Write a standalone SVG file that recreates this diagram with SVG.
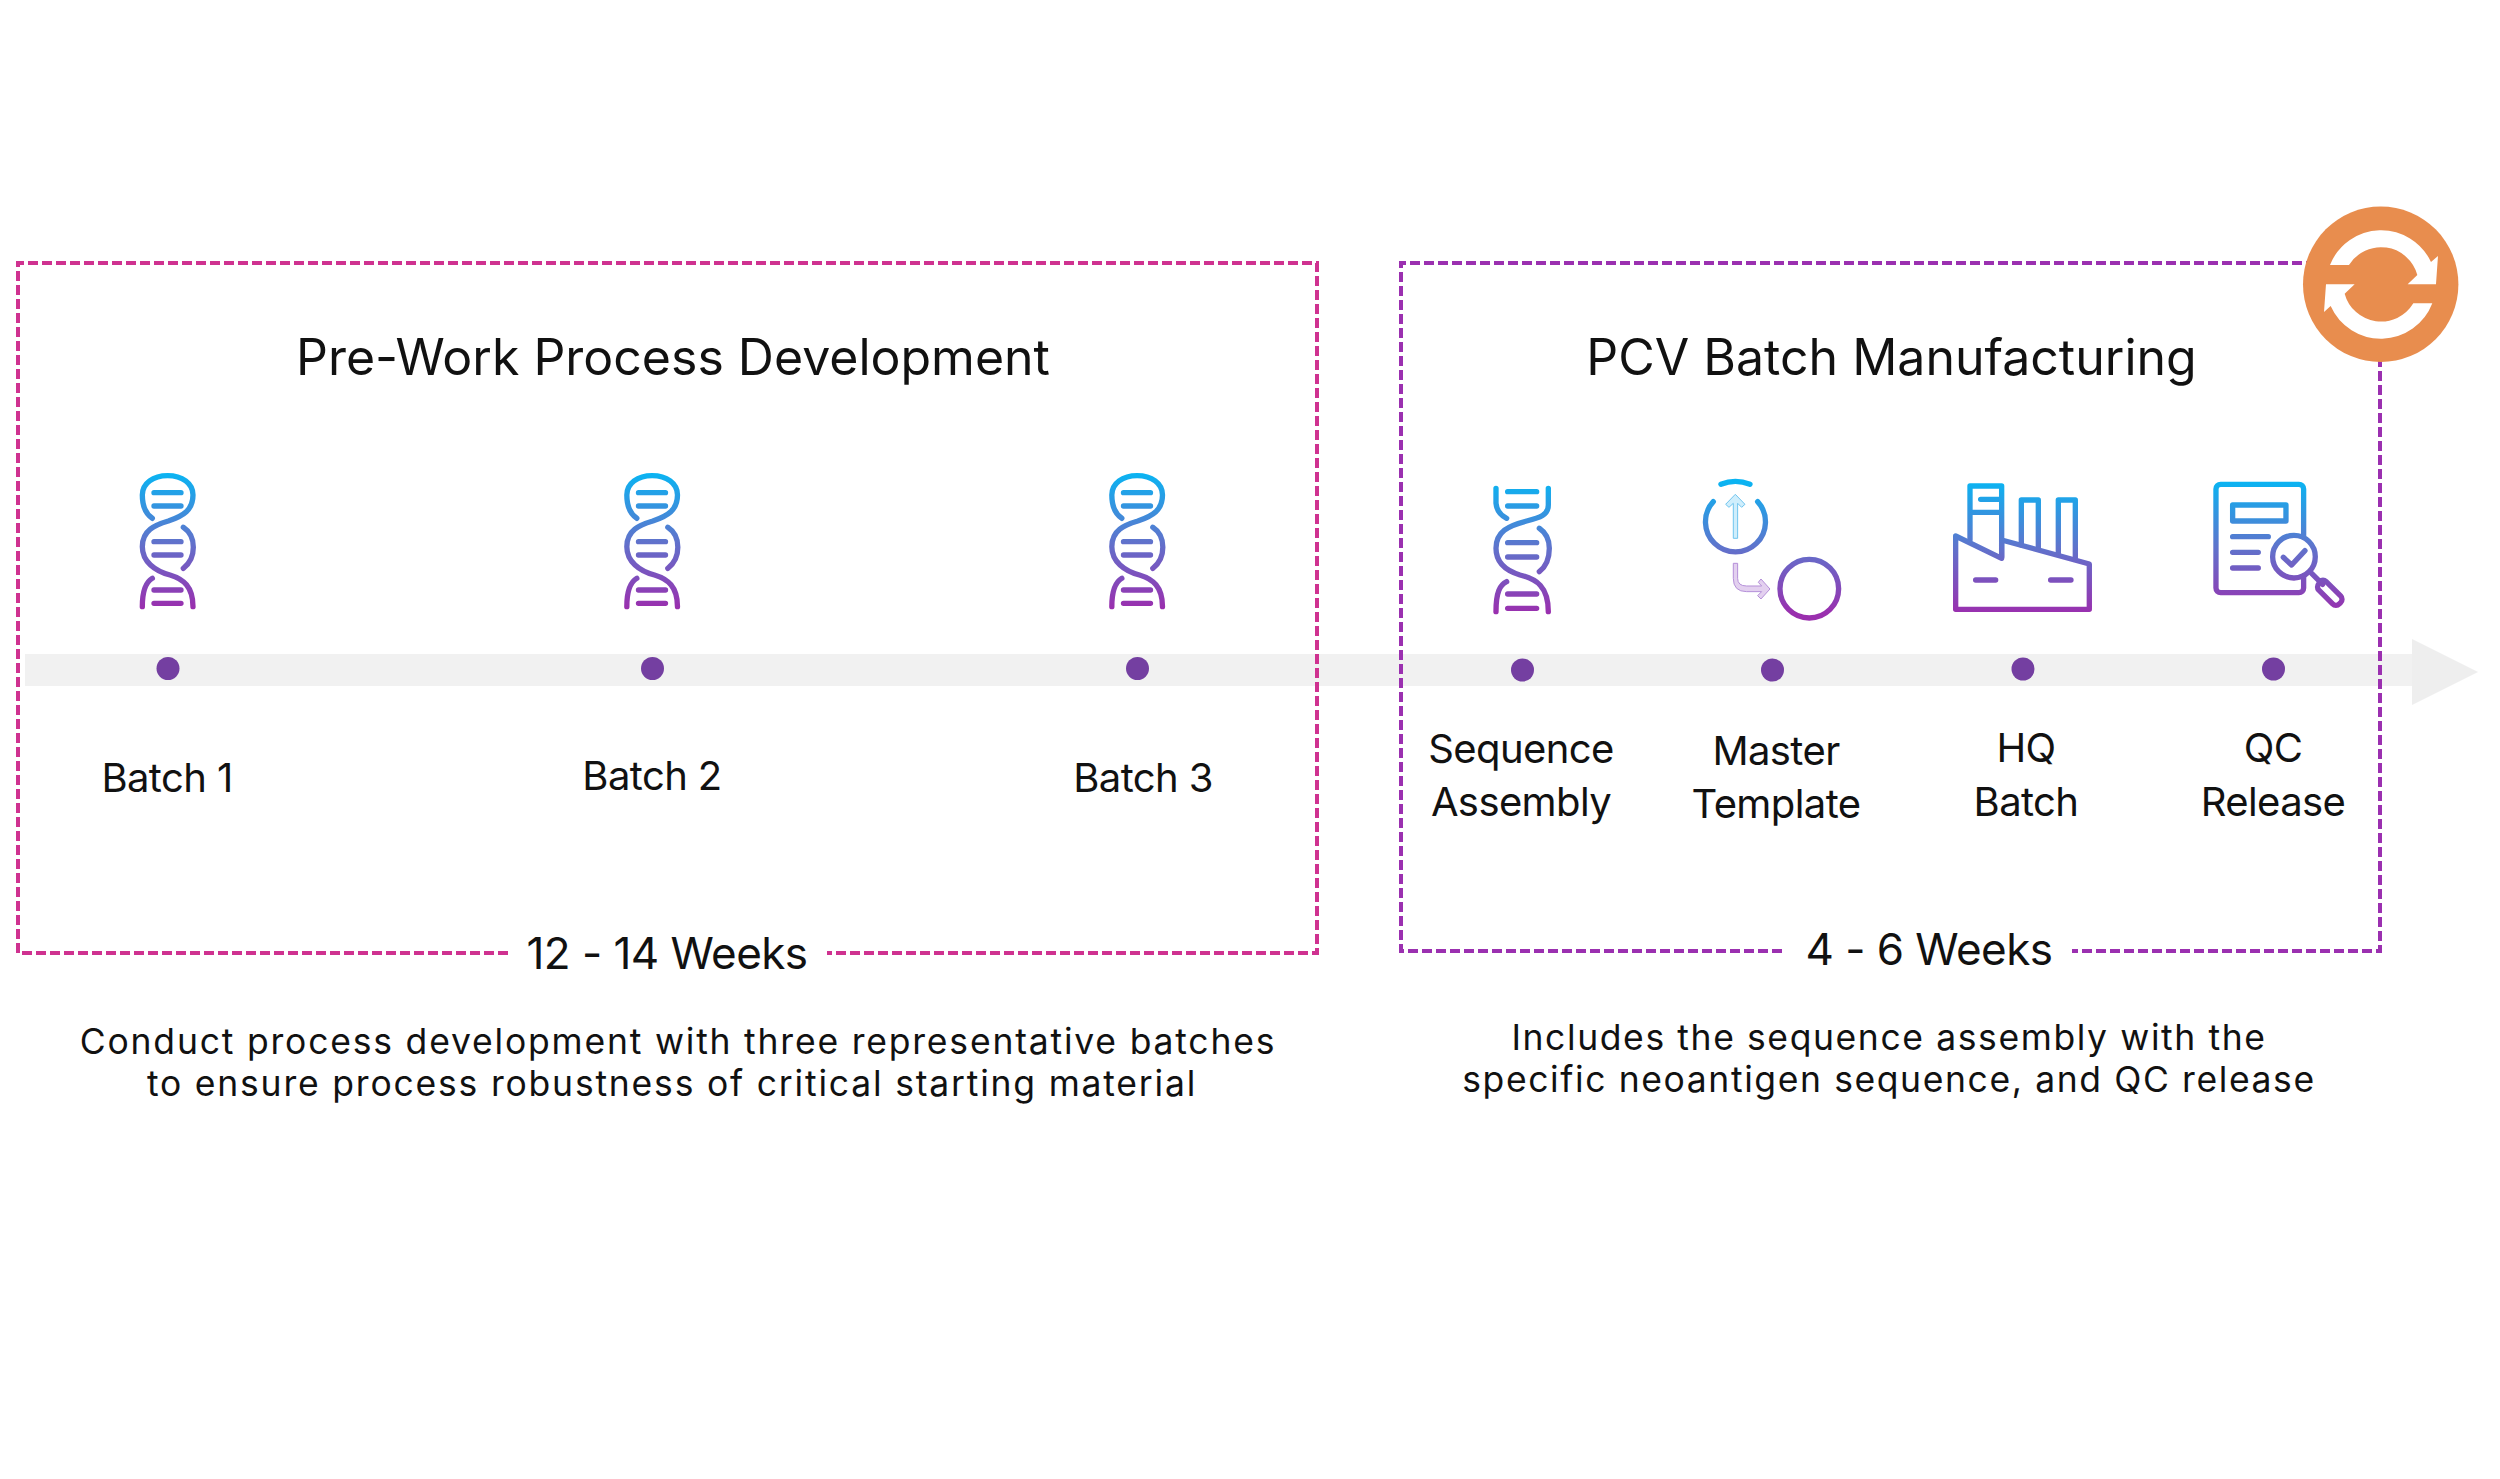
<svg xmlns="http://www.w3.org/2000/svg" xmlns:xlink="http://www.w3.org/1999/xlink" width="2500" height="1479" viewBox="0 0 2500 1479">
<style>
text{font-family:"Inter","Liberation Sans",sans-serif;fill:#111;text-anchor:middle}
.t{font-size:50px}.l{font-size:40px;letter-spacing:-.6px}.w{font-size:44px;font-weight:440;letter-spacing:-.55px}.d{font-size:35.500px;letter-spacing:1.800px}.e{font-size:35.500px;letter-spacing:1.600px}
.dot{fill:#743fa1}
.dp{fill:none;stroke:#cf3290;stroke-width:4;stroke-dasharray:10 4}
.dv{fill:none;stroke:#9b30b0;stroke-width:4;stroke-dasharray:10 4}
.ic{fill:none;stroke:url(#g);stroke-width:16;stroke-linecap:round;stroke-linejoin:round}
.ic2{fill:none;stroke:url(#g2);stroke-width:16;stroke-linecap:round;stroke-linejoin:round}
</style>
<defs>
<linearGradient id="g" gradientUnits="userSpaceOnUse" x1="0" y1="100" x2="0" y2="505"><stop offset="0" stop-color="#0ab4f2"/><stop offset=".5" stop-color="#5f73cc"/><stop offset="1" stop-color="#9a2fae"/></linearGradient>
<linearGradient id="g2" gradientUnits="userSpaceOnUse" x1="0" y1="95" x2="0" y2="490"><stop offset="0" stop-color="#0ab4f2"/><stop offset=".5" stop-color="#5f73cc"/><stop offset="1" stop-color="#9a2fae"/></linearGradient>
<g id="dna" class="ic">
<path d="M157,235C135,220 127,195 127,165C127,130 160,107 203,107C246,107 279,130 279,165C279,210 250,228 205,243C165,255 127,270 127,320C127,365 165,393 210,405C250,417 279,440 279,500"/>
<path d="M250,262C270,275 280,295 280,322C280,347 270,370 250,385"/>
<path d="M157,415C140,425 127,450 127,500"/>
<path d="M162,158H243M162,198H243M162,305H243M162,345H243M162,450H243M162,490H243"/>
</g>
</defs>
<g id="timeline">
<rect x="25" y="654" width="2387" height="32" fill="#f1f1f1"/>
<polygon points="2412,639 2478,672 2412,705" fill="#eeeeee"/>
</g>
<g id="connectors">
<path class="dp" d="M508,953H18V263H1317V953H827"/>
<path class="dv" d="M1782,951H1401V263H2380V951H2072"/>
</g>
<g id="batch1"><use href="#dna" transform="translate(100,440) scale(.3333)"/><circle class="dot" cx="168" cy="668.500" r="11.500"/><text class="l" x="167" y="792">Batch 1</text></g>
<g id="batch2"><use href="#dna" transform="translate(584.500,440) scale(.3333)"/><circle class="dot" cx="652.500" cy="668.500" r="11.500"/><text class="l" x="652" y="790">Batch 2</text></g>
<g id="batch3"><use href="#dna" transform="translate(1069.500,440) scale(.3333)"/><circle class="dot" cx="1137.500" cy="668.500" r="11.500"/><text class="l" x="1143" y="792">Batch 3</text></g>
<g id="sequence"><g class="ic2" transform="translate(1440,450) scale(.3333)">
<path d="M168,115V160C170,180 180,195 200,205"/>
<path d="M325,115V165C325,195 300,203 260,213C205,227 168,245 168,295C168,340 200,363 240,375C290,387 325,410 325,485"/>
<path d="M298,235C320,250 328,270 328,295C328,325 318,350 298,365"/>
<path d="M200,395C180,405 168,425 168,485"/>
<path d="M203,125H290M203,168H290M203,278H290M203,321H290M203,432H290M203,475H290"/>
</g><circle class="dot" cx="1522.500" cy="670" r="11.500"/><text class="l" x="1521" y="763">Sequence</text><text class="l" x="1521" y="816">Assembly</text></g>
<g id="master"><g transform="translate(1440,450) scale(.3333)">
<path class="ic2" d="M820,155A90,90 0 1 0 953,155M843,103Q886,85 930,103"/>
<circle class="ic2" cx="1108" cy="416" r="88"/>
<polygon points="886,133 915,163 905,172 893,160 893,265 880,265 880,160 867,172 857,163" fill="#cfeefc" stroke="#6fc4ee" stroke-width="3"/>
<path d="M880,340H893V385Q893,408 920,408H965L955,397L963,387L990,417L963,447L953,437L965,425H920Q880,425 880,385Z" fill="#e3d0ef" stroke="#b48fd8" stroke-width="3"/>
</g><circle class="dot" cx="1772.500" cy="670" r="11.500"/><text class="l" x="1776" y="765">Master</text><text class="l" x="1776" y="818">Template</text></g>
<g id="hq"><g class="ic2" transform="translate(1920,450) scale(.3333)">
<path d="M107,258L245,325V270L508,342V478H107Z"/>
<path d="M150,270V108H245V320M150,187H245M182,148H245M304,285V150H355V295M415,310V150H466V325M167,390H227M392,390H453"/>
</g><circle class="dot" cx="2023" cy="669" r="11.500"/><text class="l" x="2026" y="762">HQ</text><text class="l" x="2026" y="816">Batch</text></g>
<g id="qc"><g class="ic2" transform="translate(1920,450) scale(.3333)">
<path d="M1151,262V117A14,14 0 0 0 1137,103H902A14,14 0 0 0 888,117V414A14,14 0 0 0 902,428H1137A14,14 0 0 0 1151,414V378"/>
<rect x="938" y="165" width="160" height="48"/>
<path d="M938,260H1045M938,307H1015M938,354H1015"/>
<circle cx="1122" cy="320" r="64"/>
<path d="M1090,322L1115,345L1155,302M1175,370L1208,403"/>
<path d="M1218,394L1262,438A14,14 0 0 1 1262,458L1258,462A14,14 0 0 1 1238,462L1196,420A14,14 0 0 1 1196,402L1200,394A13,13 0 0 1 1218,394Z"/>
</g><circle class="dot" cx="2273.500" cy="669" r="11.500"/><text class="l" x="2273" y="762">QC</text><text class="l" x="2273" y="816">Release</text></g>
<g id="cycle-badge"><circle cx="2380.700" cy="284.300" r="77.700" fill="#e88d4e"/>
<g transform="translate(2280,190) scale(.3333)" fill="#fff">
<path d="M150,225A165,165 0 0 1 453,216L474,198L468,283H383L412,255A113,113 0 0 0 207,225Z"/>
<path d="M457,340A165,165 0 0 1 152,348L132,366L138,283H224L194,311A113,113 0 0 0 400,340Z"/>
</g></g>
<g id="pre-work-labels">
<text class="t" x="673" y="375">Pre-Work Process Development</text>
<text class="w" x="667" y="969">12 - 14 Weeks</text>
<text class="d" x="678" y="1054">Conduct process development with three representative batches</text>
<text class="d" x="672" y="1096">to ensure process robustness of critical starting material</text>
</g>
<g id="pcv-labels">
<text class="t" x="1891.500" y="375">PCV Batch Manufacturing</text>
<text class="w" x="1929" y="965">4 - 6 Weeks</text>
<text class="e" x="1889" y="1050">Includes the sequence assembly with the</text>
<text class="e" x="1889" y="1092">specific neoantigen sequence, and QC release</text>
</g>
</svg>
